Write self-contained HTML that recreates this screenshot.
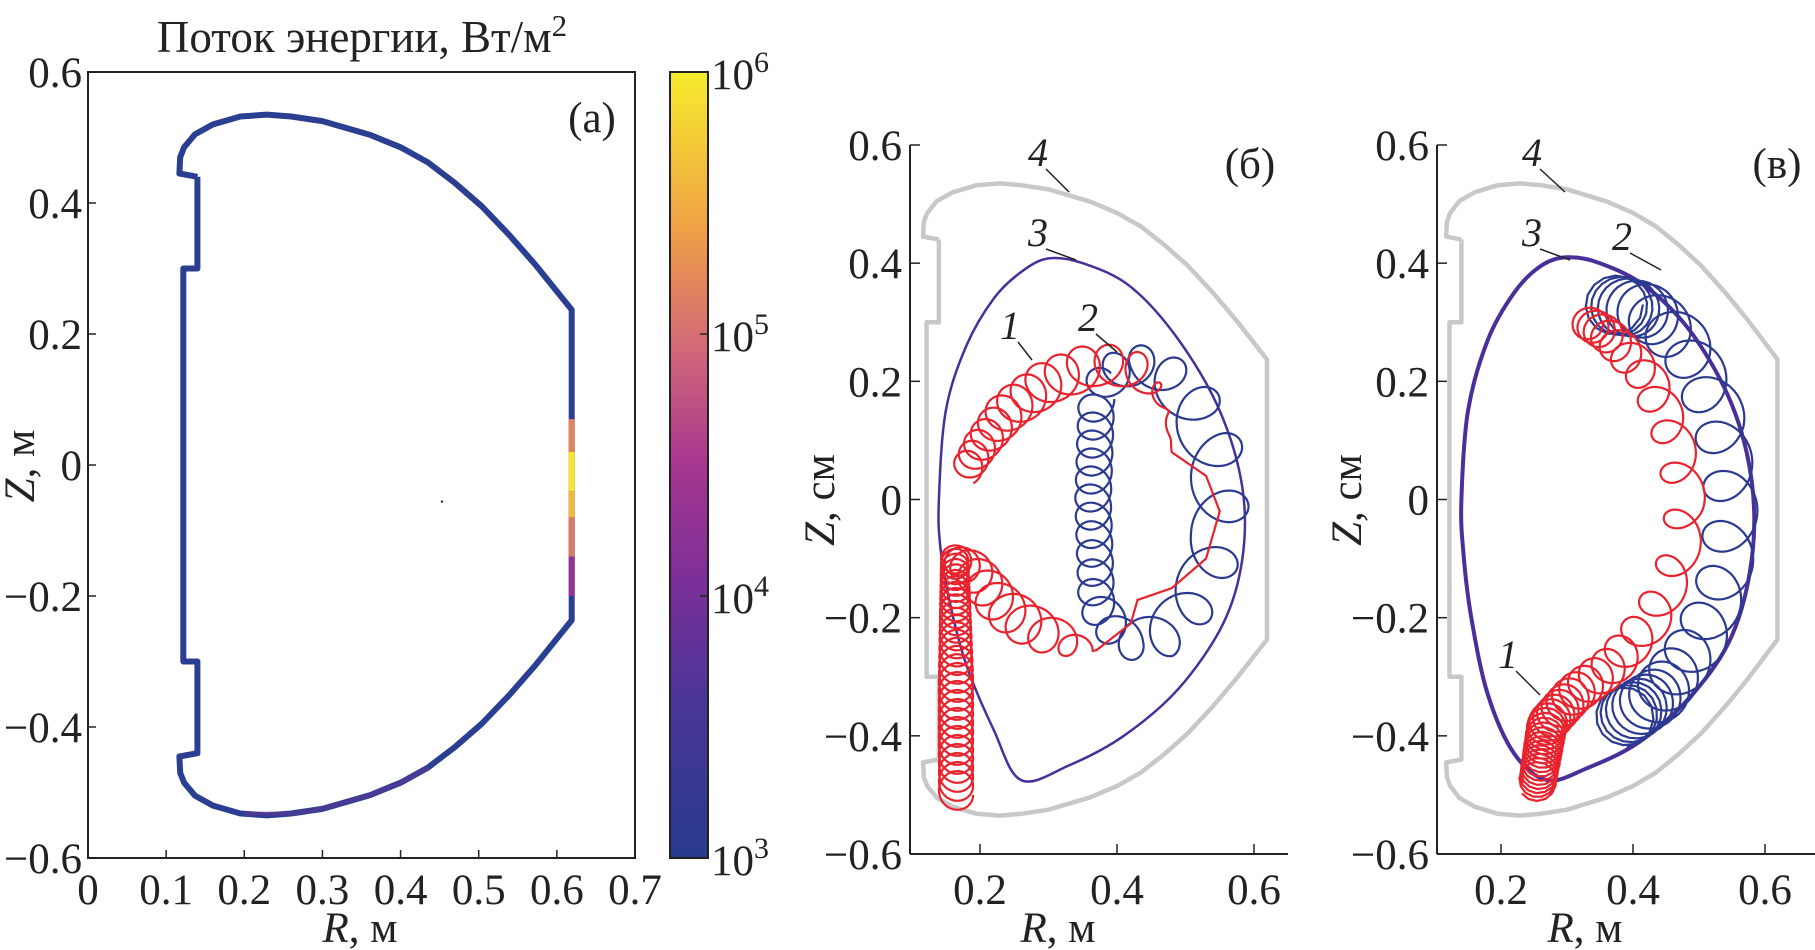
<!DOCTYPE html>
<html><head><meta charset="utf-8">
<style>
html,body{margin:0;padding:0;background:#fff;}
svg{display:block;}
text{font-family:"Liberation Serif","DejaVu Serif",serif;fill:#222;}
</style></head>
<body>
<svg id="fig" width="1815" height="950" viewBox="0 0 1815 950" xmlns="http://www.w3.org/2000/svg">
<defs>
<linearGradient id="cmap" x1="0" y1="1" x2="0" y2="0">
<stop offset="0" stop-color="#283b8e"/><stop offset="0.2" stop-color="#4a3598"/>
<stop offset="0.36" stop-color="#7e2f98"/><stop offset="0.5" stop-color="#a6368f"/>
<stop offset="0.64" stop-color="#d0657a"/><stop offset="0.8" stop-color="#f0a046"/>
<stop offset="1" stop-color="#f6ec2c"/></linearGradient>
</defs>
<g id="pa"></g>
<g id="pb"></g>
<g id="pv"></g>
</svg>
<script>
const vessel=[[0.14,0.44],[0.14,0.30],[0.122,0.30],[0.122,-0.30],[0.14,-0.30],[0.14,-0.44],[0.117,-0.445],[0.118,-0.47],[0.123,-0.485],[0.137,-0.505],[0.16,-0.52],[0.195,-0.532],[0.229,-0.535],[0.26,-0.532],[0.30,-0.525],[0.361,-0.504],[0.40,-0.485],[0.435,-0.462],[0.47,-0.43],[0.504,-0.395],[0.54,-0.35],[0.573,-0.305],[0.619,-0.237],[0.619,0.237],[0.573,0.305],[0.54,0.35],[0.504,0.395],[0.47,0.43],[0.435,0.462],[0.40,0.485],[0.361,0.504],[0.30,0.525],[0.26,0.532],[0.229,0.535],[0.195,0.532],[0.16,0.52],[0.137,0.505],[0.123,0.485],[0.118,0.47],[0.117,0.445],[0.14,0.44]];
const wallZedges=[0.07,0.02,-0.04,-0.08,-0.14,-0.2];
const wallFlux=[1.5e5,9e5,4e5,1.2e5,2e4];
const cbTicks=["3","4","5","6"];
const aXTicks=[0,0.1,0.2,0.3,0.4,0.5,0.6,0.7];
const zTicks=[-0.6,-0.4,-0.2,0,0.2,0.4,0.6];
const rTicksBV=[0.2,0.4,0.6];
const sepB=[[0.14,0],[0.15,0.15],[0.18,0.26],[0.22,0.34],[0.26,0.385],[0.30,0.408],[0.35,0.40],[0.42,0.36],[0.49,0.27],[0.55,0.15],[0.583,0.02],[0.583,-0.1],[0.555,-0.21],[0.49,-0.32],[0.41,-0.40],[0.33,-0.45],[0.26,-0.475],[0.22,-0.39],[0.18,-0.28],[0.155,-0.17],[0.142,-0.08],[0.14,0]];
const sepV=[[0.14,0],[0.15,0.15],[0.18,0.27],[0.22,0.35],[0.26,0.395],[0.30,0.41],[0.35,0.40],[0.42,0.36],[0.49,0.28],[0.55,0.16],[0.58,0.03],[0.58,-0.1],[0.55,-0.23],[0.49,-0.33],[0.41,-0.41],[0.33,-0.455],[0.27,-0.475],[0.22,-0.43],[0.18,-0.33],[0.155,-0.2],[0.143,-0.09],[0.14,0]];
// guiding-centre paths [R, Z, gyroradius (R units), loop spacing (px)]
const redB=[[0.165,-0.50,0.025,9],[0.165,-0.30,0.025,9],[0.163,-0.10,0.02,5],[0.19,-0.12,0.028,14],[0.23,-0.18,0.032,18],[0.28,-0.22,0.032,22],[0.33,-0.24,0.022,28],[0.37,-0.255,0.0,30],[0.42,-0.21,0,30],[0.43,-0.17,0,30],[0.48,-0.15,0,30],[0.53,-0.10,0,30],[0.55,-0.02,0,30],[0.53,0.04,0,30],[0.48,0.08,0,30],[0.47,0.16,0.005,30],[0.43,0.22,0.025,30],[0.37,0.23,0.032,26],[0.30,0.20,0.032,20],[0.24,0.15,0.03,15],[0.20,0.09,0.025,12],[0.18,0.05,0.022,10]];
const blueB=[[0.37,0.17,0.026,18],[0.365,0.0,0.026,18],[0.37,-0.18,0.026,20],[0.41,-0.24,0.028,30],[0.47,-0.23,0.032,40],[0.52,-0.16,0.037,52],[0.55,-0.06,0.042,58],[0.55,0.06,0.042,58],[0.51,0.17,0.037,46],[0.45,0.23,0.03,34],[0.40,0.22,0.026,24],[0.375,0.19,0.026,18]];
const redV=[[0.33,0.30,0.025,5],[0.36,0.28,0.027,10],[0.42,0.21,0.028,26],[0.46,0.11,0.03,40],[0.48,0.0,0.03,48],[0.47,-0.1,0.03,48],[0.43,-0.2,0.03,34],[0.37,-0.28,0.03,18],[0.31,-0.33,0.03,9],[0.27,-0.38,0.03,5],[0.255,-0.48,0.028,4]];
const blueV=[[0.37,0.33,0.045,4],[0.42,0.32,0.042,12],[0.48,0.26,0.04,34],[0.53,0.14,0.04,46],[0.55,0.0,0.04,52],[0.54,-0.13,0.04,46],[0.50,-0.24,0.04,34],[0.44,-0.33,0.042,12],[0.385,-0.37,0.045,4]];

const NS="http://www.w3.org/2000/svg";
function el(p,t,a){const e=document.createElementNS(NS,t);for(const k in a)e.setAttribute(k,a[k]);p.appendChild(e);return e;}
function txt(p,x,y,s,size,anchor,name,extra){const t=el(p,'text',Object.assign({x:x,y:y,'font-size':size,'text-anchor':anchor||'middle'},extra||{}));t.textContent=s;

return t;}
function fmt(v){const s=Math.abs(v)<1e-9?"0":Math.abs(v).toFixed(1);return (v<-1e-9?"\u2212":"")+s;}
function poly(p,pts,X,Y,attrs,name){const d=pts.map((q,i)=>(i?'L':'M')+X(q[0]).toFixed(1)+','+Y(q[1]).toFixed(1)).join('');const e=el(p,'path',Object.assign({d:d,fill:'none'},attrs));

return e;}
function smooth(p,pts,X,Y,attrs,name){const P=pts.map(q=>[X(q[0]),Y(q[1])]);const n=P.length-1;let d='M'+P[0][0].toFixed(1)+','+P[0][1].toFixed(1);
 for(let i=0;i<n;i++){const p0=P[i==0?n-1:i-1],p1=P[i],p2=P[i+1],p3=P[i+2>n?1:i+2];
  d+='C'+(p1[0]+(p2[0]-p0[0])/6).toFixed(1)+','+(p1[1]+(p2[1]-p0[1])/6).toFixed(1)+' '+(p2[0]-(p3[0]-p1[0])/6).toFixed(1)+','+(p2[1]-(p3[1]-p1[1])/6).toFixed(1)+' '+p2[0].toFixed(1)+','+p2[1].toFixed(1);}
 const e=el(p,'path',Object.assign({d:d,fill:'none'},attrs));
 
 return e;}
function helix(p,pts,X,Y,kx,color,name){
 const P=pts.map(q=>[X(q[0]),Y(q[1]),q[2]*kx,q[3]]);let d='',ph=0,first=true;
 for(let i=0;i<P.length-1;i++){const a=P[i],b=P[i+1];const L=Math.hypot(b[0]-a[0],b[1]-a[1]);const n=Math.max(2,Math.ceil(L/0.3));
  for(let j=0;j<=n;j++){if(i>0&&j==0)continue;const t=j/n;const x=a[0]+(b[0]-a[0])*t,y=a[1]+(b[1]-a[1])*t,r=a[2]+(b[2]-a[2])*t,pc=a[3]+(b[3]-a[3])*t;
   if(j>0)ph+=2*Math.PI*(L/n)/pc;
   d+=(first?'M':'L')+(x+r*Math.cos(ph)).toFixed(1)+','+(y+r*Math.sin(ph)).toFixed(1);first=false;}}
 const e=el(p,'path',{d:d,fill:'none',stroke:color,'stroke-width':2.2});
 
 }
function cmapColor(v){const f=(Math.log10(v)-3)/3;const st=[[0,[40,59,142]],[0.2,[74,53,152]],[0.36,[126,47,152]],[0.5,[166,54,143]],[0.64,[208,101,122]],[0.8,[240,160,70]],[1,[246,236,44]]];
 for(let i=0;i<st.length-1;i++){if(f<=st[i+1][0]){const t=(f-st[i][0])/(st[i+1][0]-st[i][0]);const c=st[i][1].map((c0,k)=>Math.round(c0+(st[i+1][1][k]-c0)*t));return 'rgb('+c+')';}}return 'rgb(246,236,44)';}
const FS=43;
// Panel a
(function(){const g=document.getElementById('pa');
 const X=R=>88+R/0.7*547,Y=Z=>72+(0.6-Z)/1.2*786;
 const box=el(g,'rect',{x:88,y:72,width:547,height:786,fill:'none',stroke:'#222','stroke-width':2});
 
 
 poly(g,vessel,X,Y,{stroke:'#2b3f92','stroke-width':6,'stroke-linejoin':'round'},'wall-heat-flux-outline');
 for(let i=0;i<wallFlux.length;i++){const s=el(g,'line',{x1:X(0.619),x2:X(0.619),y1:Y(wallZedges[i]),y2:Y(wallZedges[i+1]),stroke:cmapColor(wallFlux[i]),'stroke-width':6});
  
  }
 poly(g,[[0.2,-0.532],[0.26,-0.532],[0.30,-0.525],[0.361,-0.504],[0.40,-0.485],[0.435,-0.462]],X,Y,{stroke:'#6a3596','stroke-width':4,opacity:0.5},'bottom-flux-segment');
 el(g,'circle',{cx:X(0.453),cy:Y(-0.056),r:1.2,fill:'#222'});
 aXTicks.forEach(v=>{el(g,'line',{x1:X(v),x2:X(v),y1:858,y2:850,stroke:'#222','stroke-width':1.5});txt(g,X(v),904,fmt(v),FS,'middle','x-tick-label');});
 zTicks.forEach(v=>{el(g,'line',{x1:88,x2:96,y1:Y(v),y2:Y(v),stroke:'#222','stroke-width':1.5});txt(g,82,Y(v)+15,fmt(v),FS,'end','y-tick-label');});
 const xl=txt(g,360,942,'',FS,'middle','x-axis-title');xl.innerHTML='<tspan font-style="italic">R</tspan>, м';
 const yl=txt(g,0,0,'',FS,'middle','y-axis-title',{transform:'translate(34,466) rotate(-90)'});yl.innerHTML='<tspan font-style="italic">Z</tspan>, м';
 const tl=txt(g,362,52,'',45,'middle','colorbar-title');tl.innerHTML='Поток энергии, Вт/м<tspan dy="-16" font-size="31">2</tspan>';
 txt(g,592,132,'(a)',FS,'middle','panel-label-a');
 const cb=el(g,'rect',{x:670,y:72,width:38,height:786,fill:'url(#cmap)',stroke:'#222','stroke-width':2});
 
 
 cbTicks.forEach((e,i)=>{const y=858-i*262;el(g,'line',{x1:700,x2:708,y1:y,y2:y,stroke:'#222','stroke-width':1.5});
  const t=txt(g,711,y+17,'',FS,'start','colorbar-tick-label');t.innerHTML='10<tspan dy="-17" font-size="30">'+e+'</tspan>';});
})();

function panelBV(id,x0,r02,k,sep,red,blue,lab,labels){
 const g=document.getElementById(id);
 const X=R=>r02+(R-0.2)*k,Y=Z=>145+(0.6-Z)/1.2*709;
 el(g,'line',{x1:x0,x2:x0,y1:145,y2:854,stroke:'#222','stroke-width':2});
 el(g,'line',{x1:x0,x2:x0+378,y1:854,y2:854,stroke:'#222','stroke-width':2});
 zTicks.forEach(v=>{el(g,'line',{x1:x0,x2:x0+10,y1:Y(v),y2:Y(v),stroke:'#222','stroke-width':1.5});txt(g,x0-8,Y(v)+15,fmt(v),FS,'end','y-tick-label');});
 rTicksBV.forEach(v=>{el(g,'line',{x1:X(v),x2:X(v),y1:854,y2:844,stroke:'#222','stroke-width':1.5});txt(g,X(v),904,fmt(v),FS,'middle','x-tick-label');});
 const xl=txt(g,x0+148,942,'',FS,'middle','x-axis-title');xl.innerHTML='<tspan font-style="italic">R</tspan>, м';
 const yl=txt(g,0,0,'',FS,'middle','y-axis-title',{transform:'translate('+(x0-76)+',500) rotate(-90)'});yl.innerHTML='<tspan font-style="italic">Z</tspan>, см';
 poly(g,vessel,X,Y,{stroke:'#c8c8c8','stroke-width':4.5,'stroke-linejoin':'round'},'vessel-wall-curve-4');
 smooth(g,sep,X,Y,{stroke:'#4a2f9a','stroke-width':id=='pv'?4:2.5,'stroke-linejoin':'round'},'separatrix-curve-3');
 helix(g,blue,X,Y,k,'#2b3a90','trajectory-2');
 helix(g,red,X,Y,k,'#e8232e','trajectory-1');
 txt(g,x0+340,178,lab,FS,'middle','panel-label');
 labels.forEach(l=>{const t=txt(g,l[1],l[2],l[0],40,'middle','curve-number-'+l[0],{'font-style':'italic'});
  el(g,'line',{x1:l[1]+8,y1:l[2]+3,x2:l[3],y2:l[4],stroke:'#222','stroke-width':1.5});});
}
panelBV('pb',910,980,685,sepB,redB,blueB,'(б)',[['4',1038,166,1069,192],['3',1038,246,1076,260],['2',1088,331,1117,352],['1',1010,339,1032,360]]);
panelBV('pv',1437,1501,660,sepV,redV,blueV,'(в)',[['4',1532,166,1565,192],['3',1532,246,1570,260],['2',1622,250,1661,270],['1',1508,668,1540,695]]);
</script>
</body></html>
